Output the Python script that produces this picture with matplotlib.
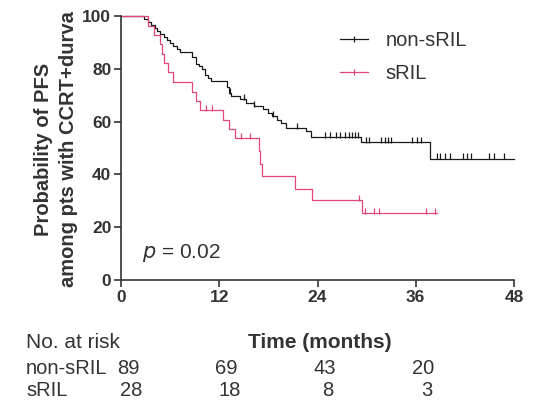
import numpy as np
import matplotlib
matplotlib.use("Agg")
import matplotlib.pyplot as plt
from matplotlib.lines import Line2D
import matplotlib.transforms as mtransforms

plt.rcParams['font.family'] = ['Liberation Sans', 'DejaVu Sans']

# Kaplan-Meier step data (time in months, PFS %)
black_t = [0, 2.8, 3.3, 3.7, 4.1, 4.4, 4.8, 5.2, 5.6, 6.0, 6.4, 6.8, 7.2,
           8.7, 9.1, 9.5, 9.9, 10.3, 10.6, 11.0, 12.9, 13.2, 13.4,
           14.5, 15.3, 16.3, 17.3, 17.9, 18.4, 19.0, 19.5, 20.1,
           22.6, 23.2, 29.3, 37.8]
black_s = [100, 98.9, 97.8, 96.6, 95.5, 94.4, 93.3, 92.1, 91.0, 89.9, 88.8, 87.6, 86.5,
           84.3, 82.0, 80.9, 79.8, 77.5, 76.4, 75.3, 73.0, 70.8, 69.6,
           68.4, 67.2, 65.9, 64.6, 63.3, 62.0, 60.7, 59.4, 57.6,
           56.3, 54.2, 52.1, 45.9]
black_end = 48.0
black_cens = [13.3, 15.0, 16.3, 18.6, 21.5, 24.9, 25.5, 26.2, 26.8, 27.3, 27.8, 28.2,
              28.6, 29.0, 29.9, 30.3, 31.8, 32.2, 32.6, 33.0, 35.5, 36.1, 36.7,
              38.6, 39.0, 39.6, 40.2, 41.8, 42.3, 42.8, 45.0, 45.5, 46.8]

red_t = [0, 3.3, 4.0, 4.8, 5.0, 5.2, 5.7, 6.3, 8.7, 9.2, 9.6, 12.4, 13.2, 13.9,
         16.8, 17.0, 17.2, 21.2, 23.3, 29.4]
red_s = [100, 96.4, 92.9, 89.3, 85.7, 82.1, 78.6, 75.0, 71.4, 67.9, 64.3, 60.7, 57.1, 53.6,
         48.7, 43.8, 39.3, 34.5, 30.2, 25.4]
red_end = 38.6
red_cens = [10.4, 11.1, 14.6, 15.8, 29.1, 29.8, 30.9, 31.5, 37.3, 38.4]

risk_times = [0, 12, 24, 36]
risk_black = [89, 69, 43, 20]
risk_red = [28, 18, 8, 3]

black = '#1a1a1a'
red = '#e2457c'
txt = '#333333'

fig = plt.figure(figsize=(5.45, 4.03), dpi=100)
ax = fig.add_axes([121 / 545, 1 - 280 / 403, 393 / 545, 264 / 403])


def km(ax, t, s, end, cens, color):
    tt = list(t) + [end]
    ss = list(s) + [s[-1]]
    ax.step(tt, ss, where='post', color=color, lw=0.9, clip_on=False)
    idx = np.searchsorted(t, cens, side='right') - 1
    cy = np.array(s)[idx]
    ax.plot(cens, cy + 0.9, linestyle='none', marker='|', ms=4, mew=0.9,
            color=color, clip_on=False)


km(ax, black_t, black_s, black_end, black_cens, black)
km(ax, red_t, red_s, red_end, red_cens, red)

ax.set_xlim(0, 48)
ax.set_ylim(0, 100)
ax.set_xticks([0, 12, 24, 36, 48])
ax.set_yticks([0, 20, 40, 60, 80, 100])
for s in ['top', 'right']:
    ax.spines[s].set_visible(False)
for s in ['left', 'bottom']:
    ax.spines[s].set_linewidth(1.2)
    ax.spines[s].set_color(txt)
ax.tick_params(width=1.2, length=5, labelsize=12.5, color=txt, pad=2)
for lab in ax.get_xticklabels() + ax.get_yticklabels():
    lab.set_fontweight('bold')
    lab.set_color(txt)

fig.text(56 / 545, 1 - 149 / 403, 'Probability of PFS\namong pts with CCRT+durva',
         rotation=90, fontsize=14.5, fontweight='bold', color=txt,
         linespacing=1.35, ha='center', va='center', multialignment='center')

ax.text(0.053, 0.102, r'$p$ = 0.02', transform=ax.transAxes, fontsize=15,
        color=txt, va='center')

handles = [Line2D([0], [0], color=black, lw=0.9, marker='|', ms=4, mew=0.9),
           Line2D([0], [0], color=red, lw=0.9, marker='|', ms=4, mew=0.9)]
ax.legend(handles, ['non-sRIL', 'sRIL'], loc='upper left',
          bbox_to_anchor=(0.557, 0.944), frameon=False, fontsize=14.5,
          handlelength=1.4, handletextpad=0.85, labelspacing=0.7,
          borderpad=0, borderaxespad=0, numpoints=1, labelcolor=txt)

# risk table
trans = mtransforms.blended_transform_factory(ax.transData, fig.transFigure)
fig.text(26 / 545, 1 - 342 / 403, 'No. at risk', fontsize=15, color=txt, va='center')
fig.text(26 / 545, 1 - 368 / 403, 'non-sRIL', fontsize=14.5, color=txt, va='center')
fig.text(26 / 545, 1 - 391 / 403, 'sRIL', fontsize=14.5, color=txt, va='center')
ax.text(24.3, 1 - 342 / 403, 'Time (months)', transform=trans, fontsize=15,
        fontweight='bold', color=txt, ha='center', va='center')
for x, nb, nr in zip(risk_times, risk_black, risk_red):
    ax.text(x + 0.9, 1 - 368 / 403, str(nb), transform=trans, fontsize=14.5,
            color=txt, ha='center', va='center')
    ax.text(x + 1.3, 1 - 391 / 403, str(nr), transform=trans, fontsize=14.5,
            color=txt, ha='center', va='center')

fig.savefig('out.png', dpi=100)
